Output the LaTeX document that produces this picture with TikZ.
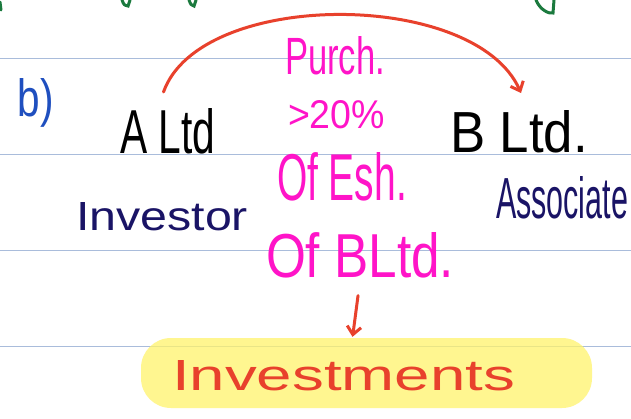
\documentclass[tikz,border=0pt]{standalone}
\usepackage{fontspec}
\setmainfont{Liberation Sans}
\usetikzlibrary{arrows.meta,calc}
\definecolor{rulecol}{HTML}{A9BCDB}
\definecolor{penred}{HTML}{E8412C}
\definecolor{penmag}{HTML}{FF14C8}
\definecolor{pennavy}{HTML}{1A1466}
\definecolor{penblue}{HTML}{1F4FBF}
\definecolor{pengreen}{HTML}{1B7A3E}
\definecolor{hlyellow}{HTML}{FFF36B}
\newcommand{\fitto}[3]{\resizebox{#1pt}{#2pt}{#3}}
\begin{document}
\begin{tikzpicture}[x=1pt,y=-1pt,
  txt/.style={anchor=north west,inner sep=0pt,outer sep=0pt},
  redpen/.style={draw=penred,line width=3pt,line cap=round,line join=round},
  barb/.style={-{Straight Barb[length=8pt,width=14pt,line width=3pt]}},
  hl/.style={fill=hlyellow,opacity=0.75,rounded corners=30pt,inner sep=0pt}]
\useasboundingbox (0,0) rectangle (631,418);
\clip (0,0) rectangle (631,418);
\fill[white] (0,0) rectangle (631,418);
% ruled lines
\foreach \yy in {58,154,250,346} \draw[rulecol,line width=0.8pt] (0,\yy) -- (631,\yy);
% green remnants at top
\draw[pengreen,line width=3pt,line cap=round] (0,2) -- (1,10);
\draw[pengreen,line width=3pt,line cap=round] (122,0) .. controls (124,5) .. (128,6) -- (130,0);
\draw[pengreen,line width=3pt,line cap=round] (189,0) .. controls (191,5) .. (194,6) -- (196,0);
\draw[pengreen,line width=3pt,line cap=round] (536,0) .. controls (540,10) and (549,14) .. (553,13) -- (554,0);
% b)
\node[txt,text=penblue] (lbl) at (18,78) {\fitto{36}{38}{b)}};
% main nodes
\node[txt] (altd) at (120,108) {\fitto{95}{45}{A Ltd}};
\node[txt] (bltd) at (450,110) {\fitto{138}{42}{B Ltd.}};
\node[txt,text=pennavy] (invr) at (76,202) {\fitto{172}{28}{Investor}};
\node[txt,text=pennavy] (assoc) at (496,176) {\fitto{132}{42}{Associate}};
% magenta notes
\node[txt,text=penmag] (purch) at (285,36) {\fitto{100}{38}{Purch.}};
\node[txt,text=penmag] (pct) at (288,100) {\fitto{97}{28}{>20\%}};
\node[txt,text=penmag] (ofe) at (277,152) {\fitto{130}{48}{Of Esh.}};
\node[txt,text=penmag] (ofb) at (266,232) {\fitto{188}{45}{Of BLtd.}};
% highlight and investments
\node[hl,minimum width=451pt,minimum height=70pt] (inv) at (366.5,373) {};
\node[txt,text=penred] (invt) at (172,360) {\fitto{343}{30}{Investments}};
% arrows
\draw[redpen,barb] ($(altd.north)+(-4,-16)$) .. controls (200,-11) and (475,-11) .. ($(bltd.north)+(2,-17)$);
\draw[redpen,barb] ($(ofb.south)+(-2,18)$) .. controls (356,315) .. ($(inv.north)+(-14,-1)$);
\end{tikzpicture}
\end{document}
